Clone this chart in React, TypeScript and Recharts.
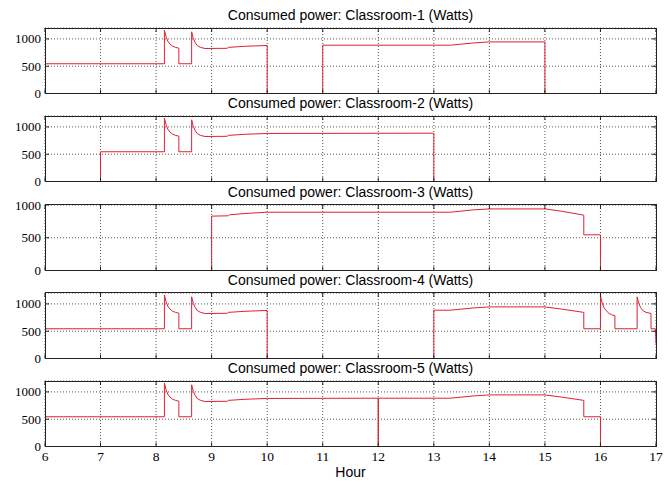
import React from 'react';
import { LineChart, Line, XAxis, YAxis, CartesianGrid } from 'recharts';

const hourTicks = [6, 7, 8, 9, 10, 11, 12, 13, 14, 15, 16, 17];
const wattTicks = [0, 500, 1000];
const titles = [
  'Consumed power: Classroom-1 (Watts)',
  'Consumed power: Classroom-2 (Watts)',
  'Consumed power: Classroom-3 (Watts)',
  'Consumed power: Classroom-4 (Watts)',
  'Consumed power: Classroom-5 (Watts)',
];
const yMaxes = [1200, 1200, 1000, 1200, 1200];

const hours1 = [6, 8.15, 8.15, 8.18, 8.21, 8.25, 8.3, 8.35, 8.41, 8.41, 8.64, 8.64, 8.67, 8.7, 8.74, 8.8, 8.88, 9.28, 9.3, 9.6, 10, 10, 11, 11, 13.3, 13.7, 14, 15, 15, 17];
const watts1 = [545, 545, 1160, 1040, 960, 905, 865, 845, 830, 545, 545, 1130, 1010, 940, 880, 845, 825, 828, 845, 865, 880, 0, 0, 885, 885, 925, 945, 945, 0, 0];

const hours2 = [6, 7, 7, 8.15, 8.15, 8.18, 8.21, 8.25, 8.3, 8.35, 8.41, 8.41, 8.64, 8.64, 8.67, 8.7, 8.74, 8.8, 8.88, 9.28, 9.3, 9.6, 10, 13, 13, 17];
const watts2 = [0, 0, 545, 545, 1160, 1040, 960, 905, 865, 845, 830, 545, 545, 1130, 1010, 940, 880, 845, 825, 828, 845, 865, 880, 885, 0, 0];

const hours3 = [6, 9, 9, 9.3, 9.32, 9.6, 10, 13.3, 13.7, 14, 15, 15.3, 15.7, 15.7, 16, 16, 17];
const watts3 = [0, 0, 830, 835, 850, 870, 890, 890, 925, 940, 940, 905, 845, 545, 545, 0, 0];

const hours4 = [6, 8.15, 8.15, 8.18, 8.21, 8.25, 8.3, 8.35, 8.41, 8.41, 8.64, 8.64, 8.67, 8.7, 8.74, 8.8, 8.88, 9.28, 9.3, 9.6, 10, 10, 13, 13, 13.3, 13.7, 14, 15, 15.3, 15.7, 15.7, 16, 16, 16.03, 16.06, 16.1, 16.15, 16.2, 16.26, 16.26, 16.66, 16.66, 16.69, 16.72, 16.76, 16.82, 16.91, 16.91, 16.99, 17];
const watts4 = [545, 545, 1160, 1040, 960, 905, 865, 845, 830, 545, 545, 1130, 1010, 940, 880, 845, 825, 828, 845, 865, 880, 0, 0, 885, 885, 925, 945, 945, 905, 845, 545, 545, 1150, 1020, 940, 880, 830, 800, 785, 545, 545, 1130, 1010, 940, 880, 845, 825, 545, 545, 270];

const hours5 = [6, 8.15, 8.15, 8.18, 8.21, 8.25, 8.3, 8.35, 8.41, 8.41, 8.64, 8.64, 8.67, 8.7, 8.74, 8.8, 8.88, 9.28, 9.3, 9.6, 10, 12, 12, 12, 13.3, 13.7, 14, 15, 15.3, 15.7, 15.7, 16, 16, 17];
const watts5 = [545, 545, 1160, 1040, 960, 905, 865, 845, 830, 545, 545, 1130, 1010, 940, 880, 845, 825, 828, 845, 865, 880, 885, 0, 885, 885, 925, 945, 945, 905, 845, 545, 545, 0, 0];

const allHours = [hours1, hours2, hours3, hours4, hours5];
const allWatts = [watts1, watts2, watts3, watts4, watts5];

const W = 671;
const PLOT_LEFT = 45;
const PLOT_RIGHT = 656;
const PLOT_W = PLOT_RIGHT - PLOT_LEFT;
const PLOT_H = 65.5;
const FIRST_TOP = 28;
const STEP = 88.3;
const TOP_M = 12;
const XAXIS_H = 22;
const FRAME = '#222';
const SERIF = "'Liberation Serif', 'Times New Roman', Times, serif";
const SANS = "'Liberation Sans', Arial, sans-serif";

const XTick = (props: any) => {
  const { x, y, payload, show } = props;
  return (
    <g>
      <line x1={x} x2={x} y1={y} y2={y - 4} stroke={FRAME} />
      <line x1={x} x2={x} y1={y - PLOT_H} y2={y - PLOT_H + 4} stroke={FRAME} />
      {show ? (
        <text x={x} y={y + 14.5} textAnchor="middle" style={{ fontFamily: SERIF, fontSize: 13.5 }} fill="#000">
          {payload.value}
        </text>
      ) : null}
    </g>
  );
};

const YTick = (props: any) => {
  const { x, y, payload } = props;
  return (
    <g>
      <line x1={x} x2={x + 4} y1={y} y2={y} stroke={FRAME} />
      <line x1={x + PLOT_W - 4} x2={x + PLOT_W} y1={y} y2={y} stroke={FRAME} />
      <text x={x - 4} y={y + 4.5} textAnchor="end" style={{ fontFamily: SERIF, fontSize: 13 }} fill="#000">
        {payload.value}
      </text>
    </g>
  );
};

function Panel({ idx }: { idx: number }) {
  const hours = allHours[idx];
  const watts = allWatts[idx];
  const yMax = yMaxes[idx];
  const data = hours.map((h, i) => ({ h, w: watts[i] }));
  const top = FIRST_TOP + idx * STEP;
  const showX = idx === 4;
  return (
    <>
      <div
        style={{
          position: 'absolute',
          left: PLOT_LEFT,
          width: PLOT_W,
          top: top - 21,
          textAlign: 'center',
          fontFamily: SANS,
          fontSize: 14,
          lineHeight: '16px',
          color: '#000',
          whiteSpace: 'nowrap',
        }}
      >
        {titles[idx]}
      </div>
      <div style={{ position: 'absolute', left: 0, top: top - TOP_M, width: W }}>
        <LineChart
          width={W}
          height={PLOT_H + TOP_M + XAXIS_H}
          data={data}
          margin={{ top: TOP_M, right: W - PLOT_RIGHT, left: 0, bottom: 0 }}
        >
          <CartesianGrid stroke="#555" strokeDasharray="1 2" />
          <XAxis
            dataKey="h"
            type="number"
            domain={[6, 17]}
            ticks={hourTicks}
            interval={0}
            height={XAXIS_H}
            tickSize={0}
            tickMargin={0}
            axisLine={false}
            tickLine={false}
            tick={<XTick show={showX} />}
          />
          <YAxis
            type="number"
            domain={[0, yMax]}
            ticks={wattTicks}
            interval={0}
            width={PLOT_LEFT}
            tickSize={0}
            tickMargin={0}
            axisLine={false}
            tickLine={false}
            tick={<YTick />}
          />
          <Line
            dataKey="w"
            type="linear"
            stroke="#dd2233"
            strokeWidth={1}
            dot={false}
            activeDot={false}
            isAnimationActive={false}
          />
        </LineChart>
      </div>
      <div
        style={{
          position: 'absolute',
          left: PLOT_LEFT - 0.5,
          top: top - 0.5,
          width: PLOT_W + 1,
          height: PLOT_H + 1,
          border: `1px solid ${FRAME}`,
          boxSizing: 'border-box',
          pointerEvents: 'none',
        }}
      />
    </>
  );
}

export default function App() {
  return (
    <div style={{ position: 'absolute', left: 0, top: 0, width: W, height: 481, background: '#fff', overflow: 'hidden' }}>
      {[0, 1, 2, 3, 4].map((i) => (
        <Panel key={i} idx={i} />
      ))}
      <div
        style={{
          position: 'absolute',
          left: PLOT_LEFT,
          width: PLOT_W,
          top: 464,
          textAlign: 'center',
          fontFamily: SANS,
          fontSize: 14,
          lineHeight: '16px',
          color: '#000',
        }}
      >
        Hour
      </div>
    </div>
  );
}
